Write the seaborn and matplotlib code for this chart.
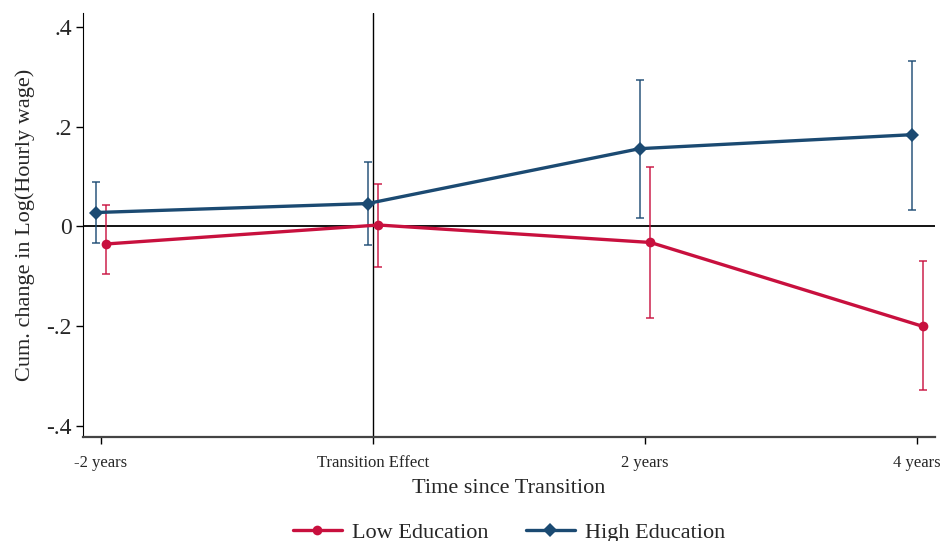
import numpy as np
import pandas as pd
import matplotlib
matplotlib.use("Agg")
import matplotlib.pyplot as plt
import seaborn as sns

# ---------- Data ----------
periods = ['-2 years', 'Transition Effect', '2 years', '4 years']
groups = ['Low Education', 'High Education']

low_coef = [-0.035, 0.003, -0.032, -0.200]
low_lo = [-0.095, -0.081, -0.184, -0.328]
low_hi = [0.044, 0.086, 0.120, -0.070]

high_coef = [0.028, 0.046, 0.156, 0.184]
high_lo = [-0.033, -0.037, 0.018, 0.034]
high_hi = [0.089, 0.129, 0.294, 0.332]

yticks = [0.4, 0.2, 0.0, -0.2, -0.4]
ytick_labels = ['.4', '.2', '0', '-.2', '-.4']

colors = {'Low Education': '#C8103E', 'High Education': '#1B4A72'}
offsets = {'Low Education': 0.02, 'High Education': -0.02}

df = pd.DataFrame({
    'period': periods * 2,
    'pos': list(range(len(periods))) * 2,
    'group': [groups[0]] * 4 + [groups[1]] * 4,
    'coef': low_coef + high_coef,
    'lo': low_lo + high_lo,
    'hi': low_hi + high_hi,
})
df['x'] = df['pos'] + df['group'].map(offsets)

# ---------- Plot ----------
sns.set_style('white')
plt.rcParams['font.family'] = ['Liberation Serif', 'DejaVu Serif']

fig = plt.figure(figsize=(9.4, 5.41), dpi=100)
ax = fig.add_axes([0.0883, 0.1922, 0.9064, 0.7838])

ax.axhline(0, color='black', lw=1.3, zorder=1)
ax.axvline(1, color='black', lw=1.0, zorder=1)

for g in groups:
    sub = df[df['group'] == g]
    ax.errorbar(sub['x'], sub['coef'],
                yerr=[sub['coef'] - sub['lo'], sub['hi'] - sub['coef']],
                fmt='none', ecolor=colors[g], alpha=0.85,
                elinewidth=1.2, capsize=3, capthick=1.2, zorder=2)

sns.lineplot(data=df, x='x', y='coef', hue='group', style='group',
             hue_order=groups, style_order=groups, palette=colors,
             markers={'Low Education': 'o', 'High Education': 'D'},
             dashes=False, markersize=7, markeredgewidth=0,
             linewidth=2.4, ax=ax, zorder=3)

ax.set_xlim(-0.066, 3.066)
ax.set_ylim(-0.422, 0.428)
ax.set_xticks(range(len(periods)))
ax.set_xticklabels(periods, fontsize=12)
ax.set_yticks(yticks)
ax.set_yticklabels(ytick_labels, fontsize=17)
ax.tick_params(axis='both', direction='out', length=5, width=1, color='black',
               bottom=True, left=True)
ax.tick_params(axis='x', pad=8)
ax.tick_params(axis='y', pad=3)

ax.set_xlabel('Time since Transition', fontsize=16, labelpad=6)
ax.set_ylabel('Cum. change in Log(Hourly wage)', fontsize=16, labelpad=8)

for side in ['top', 'right']:
    ax.spines[side].set_visible(False)
ax.spines['left'].set_color('black')
ax.spines['bottom'].set_color('#444444')
ax.spines['bottom'].set_linewidth(1.6)

handles, labels = ax.get_legend_handles_labels()
ax.get_legend().remove()
ax.legend(handles, labels, loc='lower center', ncol=2, frameon=False,
          fontsize=16, bbox_to_anchor=(0.5, -0.27), handlelength=2.2,
          handletextpad=0.45, columnspacing=1.7, borderaxespad=0)

fig.savefig('out.png', dpi=100)
